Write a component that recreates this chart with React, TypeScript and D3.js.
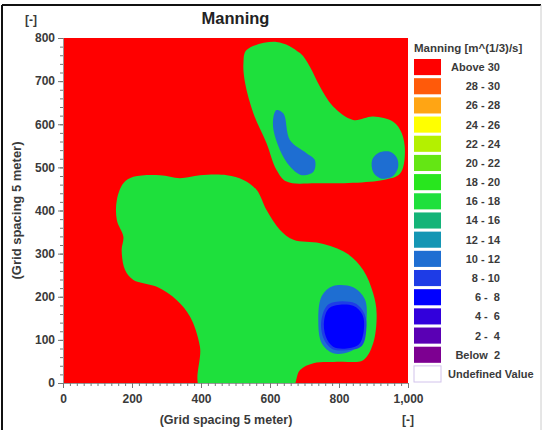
import React, { useEffect, useRef } from 'react';
import * as d3 from 'd3';

// legend classes, top to bottom
const bandLabels = [
    'Above 30', '28 - 30', '26 - 28', '24 - 26', '22 - 24', '20 - 22', '18 - 20', '16 - 18',
    '14 - 16', '12 - 14', '10 - 12', '8 - 10', '6 -  8', '4 -  6', '2 -  4', 'Below  2',
];
const bandColors = [
    '#ff0000', '#ff5a0a', '#ffa514', '#ffff00', '#b4f000', '#64e614', '#28e61e', '#1ee03c',
    '#14b478', '#1496b4', '#1e6ed2', '#1e3ce6', '#0000ff', '#3200dc', '#5a00b4', '#7d0091',
];
const undefinedLabel = 'Undefined Value';

const xTicks = [0, 200, 400, 600, 800, 1000];
const yTicks = [0, 100, 200, 300, 400, 500, 600, 700, 800];

// contour outlines, [x, y] in grid units
const upperGreen = [
    [532, 772], [619, 791], [687, 765], [716, 733], [745, 687], [783, 641], [841, 610],
    [899, 618], [957, 606], [982, 579], [991, 533], [977, 486], [928, 471], [735, 463],
    [648, 467], [619, 494], [590, 556], [552, 625], [528, 695], [523, 741],
];
const upperBlueLeft = [
    [619, 633], [639, 625], [658, 563], [706, 533], [730, 517], [726, 490], [692, 482],
    [658, 502], [629, 540], [610, 587], [610, 617],
];
const upperBlueRight = [
    [896, 517], [913, 533], [948, 536], [968, 522], [971, 499], [954, 478], [919, 475], [899, 489],
];
const lowerGreen = [
    [156, 424], [175, 463], [204, 478], [281, 482], [339, 475], [397, 482], [475, 482],
    [523, 471], [561, 448], [590, 401], [629, 355], [668, 332], [745, 324], [822, 301],
    [870, 262], [899, 208], [909, 162], [899, 92], [870, 53], [803, 49], [726, 46],
    [687, 30], [660, -15], [400, -15], [397, 84], [368, 154], [330, 192], [272, 223],
    [204, 239], [180, 262], [170, 308], [175, 339], [156, 378],
];
const lowerBlue = [
    [783, 225], [841, 222], [875, 194], [880, 146], [870, 100], [832, 73], [783, 69],
    [750, 92], [740, 146], [750, 202],
];
const lowerBlue2 = [
    [771, 183], [846, 185], [874, 160], [879, 123], [866, 86], [823, 76], [780, 79],
    [755, 104], [749, 146],
];
const lowerBlue3 = [
    [774, 175], [841, 179], [868, 158], [872, 123], [858, 90], [822, 80], [783, 84],
    [762, 107], [757, 146],
];

// which class each patch is painted with
const patches = [
    { pts: upperGreen, band: '16 - 18' },
    { pts: lowerGreen, band: '16 - 18' },
    { pts: upperBlueLeft, band: '10 - 12' },
    { pts: upperBlueRight, band: '10 - 12' },
    { pts: lowerBlue, band: '10 - 12' },
    { pts: lowerBlue2, band: '8 - 10' },
    { pts: lowerBlue3, band: '6 -  8' },
];

const FONT = '"Liberation Sans", Arial, sans-serif';
const TEXT = '#3a3a3a';

export default function App() {
    const ref = useRef<SVGSVGElement>(null);

    useEffect(() => {
        const svg = d3.select(ref.current);
        svg.selectAll('*').remove();

        const x = d3.scaleLinear().domain([0, 1000]).range([63, 408]);
        const y = d3.scaleLinear().domain([0, 800]).range([383, 38]);
        const color = d3.scaleOrdinal<string, string>().domain(bandLabels).range(bandColors);

        // frame
        svg.append('line').attr('x1', 2).attr('x2', 541).attr('y1', 5).attr('y2', 5)
            .attr('stroke', '#111').attr('stroke-width', 2);
        svg.append('line').attr('x1', 2).attr('x2', 2).attr('y1', 5).attr('y2', 430)
            .attr('stroke', '#111').attr('stroke-width', 2);
        svg.append('line').attr('x1', 541).attr('x2', 541).attr('y1', 5).attr('y2', 430)
            .attr('stroke', '#ccc').attr('stroke-width', 1);

        svg.append('clipPath').attr('id', 'plotclip')
            .append('rect')
            .attr('x', x(0)).attr('y', y(800))
            .attr('width', x(1000) - x(0)).attr('height', y(0) - y(800));

        const plot = svg.append('g').attr('clip-path', 'url(#plotclip)');
        plot.append('rect')
            .attr('x', x(0)).attr('y', y(800))
            .attr('width', x(1000) - x(0)).attr('height', y(0) - y(800))
            .attr('fill', color('Above 30'));

        const line = d3.line<number[]>()
            .x((d) => x(d[0]))
            .y((d) => y(d[1]))
            .curve(d3.curveCatmullRomClosed.alpha(0.5));

        plot.selectAll('path.patch')
            .data(patches)
            .enter()
            .append('path')
            .attr('class', 'patch')
            .attr('d', (d) => line(d.pts))
            .attr('fill', (d) => color(d.band));

        // axes
        const styleAxis = (g) => {
            g.select('.domain').attr('stroke', '#999');
            g.selectAll('.tick line').attr('stroke', '#777');
            g.selectAll('text')
                .attr('font-family', FONT)
                .attr('font-size', 12)
                .attr('font-weight', 'bold')
                .attr('fill', TEXT);
        };

        svg.append('g')
            .attr('transform', `translate(${x(0)},0)`)
            .call(d3.axisLeft(y).tickValues(d3.range(0, 801, 20)).tickSize(3).tickFormat(() => ''))
            .call(styleAxis);
        svg.append('g')
            .attr('transform', `translate(${x(0)},0)`)
            .call(d3.axisLeft(y).tickValues(yTicks).tickSize(5).tickPadding(3))
            .call((g) => g.select('.domain').remove())
            .call(styleAxis);

        svg.append('g')
            .attr('transform', `translate(0,${y(0)})`)
            .call(d3.axisBottom(x).tickValues(d3.range(0, 1001, 20)).tickSize(3).tickFormat(() => ''))
            .call(styleAxis);
        svg.append('g')
            .attr('transform', `translate(0,${y(0)})`)
            .call(d3.axisBottom(x).tickValues(xTicks).tickSize(5).tickPadding(6))
            .call((g) => g.select('.domain').remove())
            .call(styleAxis);

        const label = (tx, ty, txt, size, anchor = 'middle', rotate = 0) =>
            svg.append('text')
                .attr('transform', `translate(${tx},${ty}) rotate(${rotate})`)
                .attr('text-anchor', anchor)
                .attr('font-family', FONT)
                .attr('font-size', size)
                .attr('font-weight', 'bold')
                .attr('fill', TEXT)
                .style('white-space', 'pre')
                .text(txt);

        svg.append('text')
            .attr('x', (x(0) + x(1000)) / 2)
            .attr('y', 24)
            .attr('text-anchor', 'middle')
            .attr('font-family', FONT)
            .attr('font-size', 16.5)
            .attr('font-weight', 'bold')
            .attr('fill', '#222')
            .text('Manning');

        label(31, 24, '[-]', 12);
        label(21, (y(0) + y(800)) / 2, '(Grid spacing 5 meter)', 13, 'middle', -90);
        label(226, 424, '(Grid spacing 5 meter)', 12.5);
        label(x(1000), 424, '[-]', 12);

        // legend
        const lx = 414;
        const allLabels = [...bandLabels, undefinedLabel];
        const ly = d3.scaleBand().domain(allLabels).range([59, 59 + 19 * allLabels.length]).paddingInner(0.16);

        svg.append('text')
            .attr('x', lx)
            .attr('y', 52)
            .attr('font-family', FONT)
            .attr('font-size', 11.5)
            .attr('font-weight', 'bold')
            .attr('fill', TEXT)
            .text('Manning [m^(1/3)/s]');

        const item = svg.selectAll('g.item')
            .data(allLabels)
            .enter()
            .append('g')
            .attr('class', 'item')
            .attr('transform', (d) => `translate(${lx},${ly(d)})`);

        item.append('rect')
            .attr('width', 27)
            .attr('height', ly.bandwidth())
            .attr('fill', (d) => (d === undefinedLabel ? '#fff' : color(d)))
            .attr('stroke', (d) => (d === undefinedLabel ? '#d2c3ec' : 'none'));

        item.append('text')
            .attr('x', (d) => (d === undefinedLabel ? 34 : 86))
            .attr('y', ly.bandwidth() / 2 + 4)
            .attr('text-anchor', (d) => (d === undefinedLabel ? 'start' : 'end'))
            .attr('font-family', FONT)
            .attr('font-size', 11)
            .attr('font-weight', 'bold')
            .attr('fill', TEXT)
            .style('white-space', 'pre')
            .text((d) => d);
    }, []);

    return (
        <svg
            ref={ref}
            width={544}
            height={430}
            style={{ position: 'absolute', left: 0, top: 0, background: '#fff' }}
        />
    );
}
